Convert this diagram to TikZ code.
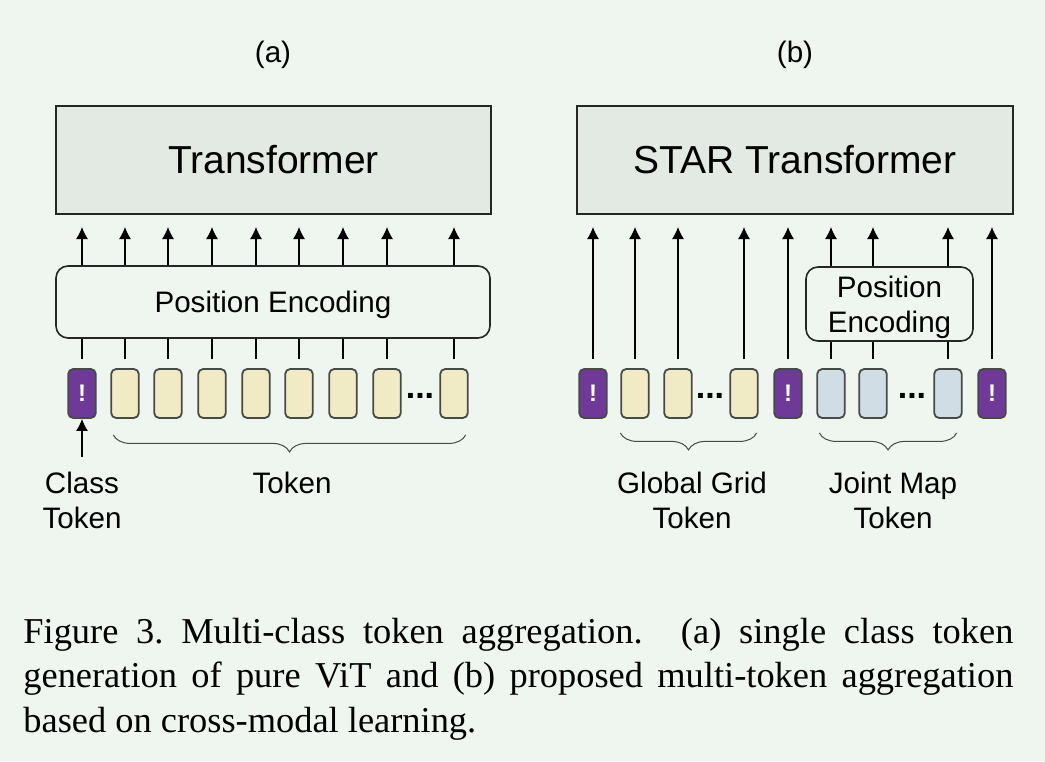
\documentclass[tikz,border=0pt]{standalone}
\usepackage{fontspec}
\setmainfont{Liberation Sans}
\newfontfamily\capfont{Liberation Serif}
\usetikzlibrary{arrows.meta,decorations.pathreplacing,positioning}
\definecolor{bgcol}{HTML}{EFF5EF}
\definecolor{boxcol}{HTML}{E3E9E3}
\definecolor{tokline}{HTML}{474B47}
\definecolor{gridcol}{HTML}{F0EBC5}
\definecolor{jointcol}{HTML}{D0DDE4}
\definecolor{clscol}{HTML}{6F3A97}
\tikzset{
	tok/.style={draw=tokline, line width=.9pt, rounded corners=2.5pt,
		minimum width=13.8pt, minimum height=24.5pt, inner sep=0pt},
	gridtok/.style={tok, fill=gridcol},
	jointtok/.style={tok, fill=jointcol},
	clstok/.style={tok, fill=clscol, text=white,
		font=\bfseries\fontsize{12}{12}\selectfont},
	tfbox/.style={draw=black!85, line width=1pt, fill=boxcol,
		minimum height=54pt, font=\fontsize{19.5}{20}\selectfont},
	pebox/.style={draw=black!85, line width=.8pt, fill=bgcol,
		rounded corners=6pt, align=center, text depth=0pt,
		font=\fontsize{14.8}{17.5}\selectfont},
	lbl/.style={align=center, font=\fontsize{14.8}{17.5}\selectfont},
	arr/.style={line width=.6pt, -{Latex[length=6pt,width=6pt]},
		shorten >=6pt},
	link/.style={line width=.6pt, shorten <=4.5pt},
	brace/.style={decorate, decoration={brace, mirror, amplitude=8.5pt},
		draw=tokline, line width=.5pt},
	dots/.style={anchor=base, font=\bfseries\fontsize{17}{17}\selectfont}
}
\begin{document}
\begin{tikzpicture}[
	x=.5pt,
	y=-.5pt]

% background and page size
\fill[bgcol] (0,0) rectangle (1045,761);
\useasboundingbox (0,0) rectangle (1045,761);

% (a) single class token
\node[lbl] (lbla) at (273,55) {(a)};
\node[tfbox, minimum width=217.5pt] (tfa) at (273.5,160) {Transformer};
\node[pebox, minimum width=217pt, minimum height=36pt] (pea)
	at (273,302) {Position Encoding};
\node[clstok] (ca) at (82,393.5) {!};
\foreach \n/\x in {1/125,2/168,3/212,4/256,5/299,6/343,7/387,8/454}
	\node[gridtok] (ya\n) at (\x,393.5) {};
\node[dots] (dotsa) at (420,398) {...};
\foreach \t in {ca,ya1,ya2,ya3,ya4,ya5,ya6,ya7,ya8} {
	\draw[link] (\t.north) -- (\t.north |- pea.south);
	\draw[arr] (\t.north |- pea.north) -- (\t.north |- tfa.south);
}
\coordinate (clsin) at (82,457);
\draw[arr, shorten >=0pt] (clsin) -- (ca.south);
\draw[brace] ([xshift=1.5pt,yshift=-8pt]ya1.south west)
	-- ([xshift=-1.5pt,yshift=-8pt]ya8.south east);
\node[lbl, anchor=base] (clslbl) at (82,528) {Class\\Token};
\node[lbl, anchor=base] (toklbl) at (292,493) {Token};

% (b) multi-token aggregation
\node[lbl] (lblb) at (795,55) {(b)};
\node[tfbox, minimum width=218pt] (tfb) at (795,160) {STAR Transformer};
\node[pebox, minimum width=83.5pt, minimum height=37pt] (peb)
	at (889.5,304) {Position\\Encoding};
\node[clstok] (cb1) at (593,393.5) {!};
\node[gridtok] (gb1) at (635,393.5) {};
\node[gridtok] (gb2) at (678,393.5) {};
\node[gridtok] (gb3) at (744,393.5) {};
\node[clstok] (cb2) at (788,393.5) {!};
\node[jointtok] (jb1) at (831,393.5) {};
\node[jointtok] (jb2) at (873,393.5) {};
\node[jointtok] (jb3) at (948,393.5) {};
\node[clstok] (cb3) at (992,393.5) {!};
\node[dots] (dotsg) at (710,398) {...};
\node[dots] (dotsj) at (912,398) {...};
\foreach \t in {cb1,gb1,gb2,gb3,cb2,cb3}
	\draw[arr, shorten <=4.5pt] (\t.north) -- (\t.north |- tfb.south);
\foreach \t in {jb1,jb2,jb3} {
	\draw[link] (\t.north) -- (\t.north |- peb.south);
	\draw[arr] (\t.north |- peb.north) -- (\t.north |- tfb.south);
}
\draw[brace] ([xshift=0pt,yshift=-7pt]gb1.south west)
	-- ([xshift=-1pt,yshift=-7pt]gb3.south east);
\draw[brace] ([xshift=1.5pt,yshift=-7pt]jb1.south west)
	-- ([xshift=-3pt,yshift=-7pt]jb3.south east);
\node[lbl, anchor=base] (gridlbl) at (692,528) {Global Grid\\Token};
\node[lbl, anchor=base] (jointlbl) at (893,528) {Joint Map\\Token};

% caption
\node[anchor=base west, text width=495pt, align=justify, inner sep=0pt,
	font=\capfont\fontsize{18.2}{22.25}\selectfont] (cap) at (23,643)
	{Figure 3.\ Multi-class token aggregation. (a) single class token\linebreak
	generation of pure ViT and (b) proposed multi-token aggregation\linebreak
	based on cross-modal learning.};
\end{tikzpicture}
\end{document}
